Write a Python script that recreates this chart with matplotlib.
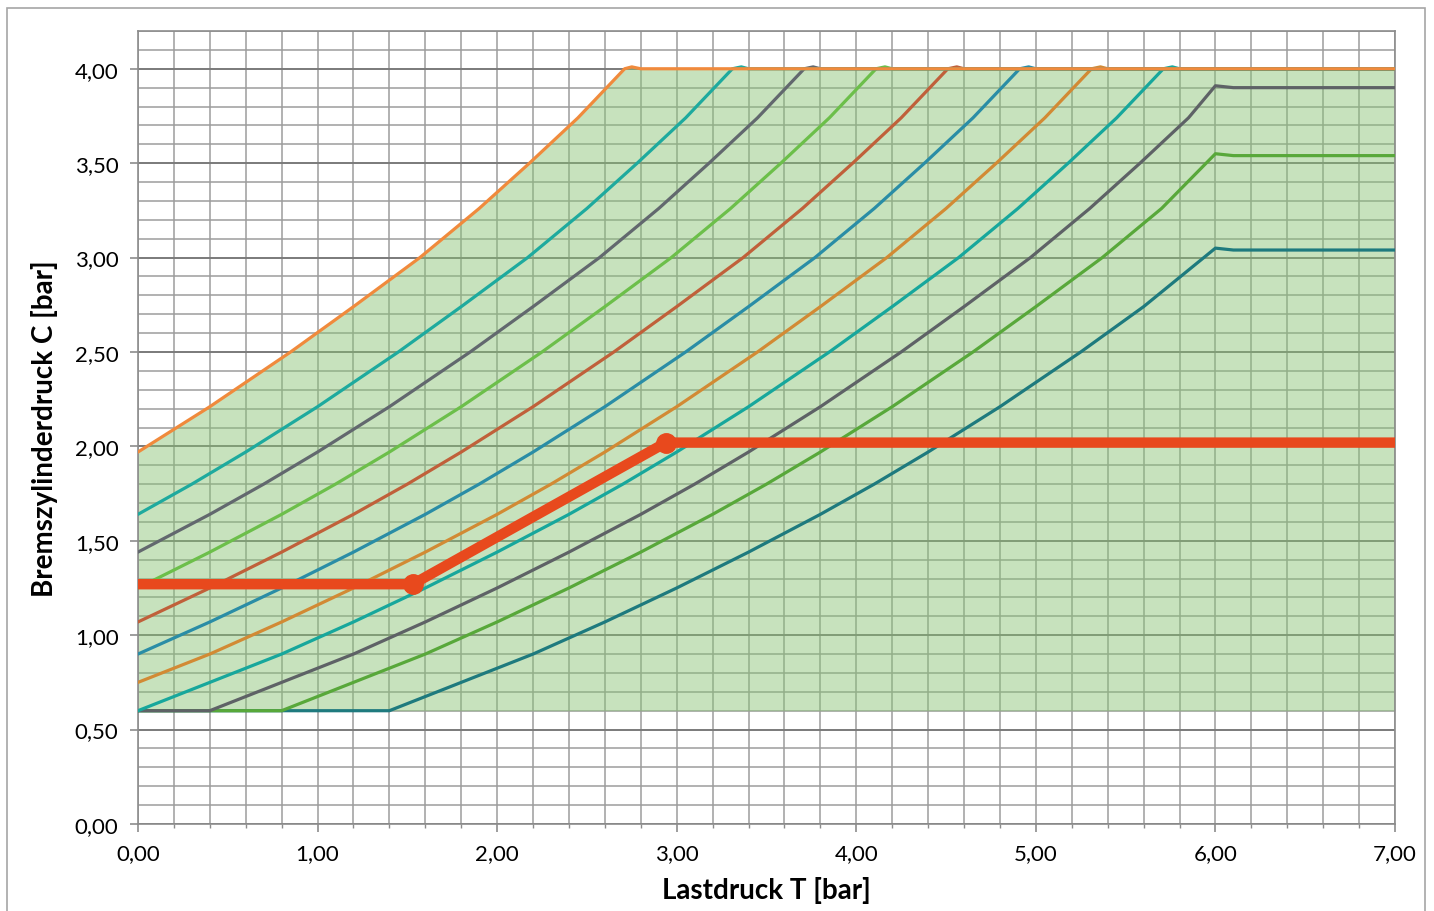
import numpy as np
import matplotlib
matplotlib.use("Agg")
import matplotlib.pyplot as plt
from matplotlib.ticker import MultipleLocator, FuncFormatter
from matplotlib.patches import Rectangle

plt.rcParams['font.family'] = ['Lato', 'DejaVu Sans']

# Kennlinien: Lastdruck T [bar] -> Bremszylinderdruck C [bar]
t_1 = [0, 0.4, 0.85, 1.2, 1.57, 1.9, 2.18, 2.45, 2.71, 2.75, 2.8, 7.0]
c_1 = [1.97, 2.21, 2.50, 2.74, 3.00, 3.26, 3.50, 3.74, 4.00, 4.01, 4.00, 4.00]

t_2 = [0, 0.3, 0.6, 1.0, 1.45, 1.8, 2.17, 2.5, 2.78, 3.05, 3.31, 3.36, 3.4, 7.0]
c_2 = [1.64, 1.80, 1.97, 2.21, 2.50, 2.74, 3.00, 3.26, 3.50, 3.74, 4.00, 4.01, 4.00, 4.00]

t_3 = [0, 0.4, 0.7, 1.0, 1.4, 1.85, 2.2, 2.57, 2.9, 3.18, 3.45, 3.71, 3.76, 3.8, 7.0]
c_3 = [1.44, 1.64, 1.80, 1.97, 2.21, 2.50, 2.74, 3.00, 3.26, 3.50, 3.74, 4.00, 4.01, 4.00, 4.00]

t_4 = [0, 0.4, 0.8, 1.1, 1.4, 1.8, 2.25, 2.6, 2.97, 3.3, 3.58, 3.85, 4.11, 4.16, 4.2, 7.0]
c_4 = [1.25, 1.44, 1.64, 1.80, 1.97, 2.21, 2.50, 2.74, 3.00, 3.26, 3.50, 3.74, 4.00, 4.01, 4.00, 4.00]

t_5 = [0, 0.4, 0.8, 1.2, 1.5, 1.8, 2.2, 2.65, 3.0, 3.37, 3.7, 3.98, 4.25, 4.51, 4.56, 4.6, 7.0]
c_5 = [1.07, 1.25, 1.44, 1.64, 1.80, 1.97, 2.21, 2.50, 2.74, 3.00, 3.26, 3.50, 3.74, 4.00, 4.01, 4.00, 4.00]

t_6 = [0, 0.4, 0.8, 1.2, 1.6, 1.9, 2.2, 2.6, 3.05, 3.4, 3.77, 4.1, 4.38, 4.65, 4.91, 4.96, 5.0, 7.0]
c_6 = [0.90, 1.07, 1.25, 1.44, 1.64, 1.80, 1.97, 2.21, 2.50, 2.74, 3.00, 3.26, 3.50, 3.74, 4.00, 4.01, 4.00, 4.00]

t_7 = [0, 0.4, 0.8, 1.2, 1.6, 2.0, 2.3, 2.6, 3.0, 3.45, 3.8, 4.17, 4.5, 4.78, 5.05, 5.31, 5.36, 5.4, 7.0]
c_7 = [0.75, 0.90, 1.07, 1.25, 1.44, 1.64, 1.80, 1.97, 2.21, 2.50, 2.74, 3.00, 3.26, 3.50, 3.74, 4.00, 4.01, 4.00, 4.00]

t_8 = [0, 0.4, 0.8, 1.2, 1.6, 2.0, 2.4, 2.7, 3.0, 3.4, 3.85, 4.2, 4.57, 4.9, 5.18, 5.45, 5.71, 5.76, 5.8, 7.0]
c_8 = [0.60, 0.75, 0.90, 1.07, 1.25, 1.44, 1.64, 1.80, 1.97, 2.21, 2.50, 2.74, 3.00, 3.26, 3.50, 3.74, 4.00, 4.01, 4.00, 4.00]

t_9 = [0, 0.4, 0.8, 1.2, 1.6, 2.0, 2.4, 2.8, 3.1, 3.4, 3.8, 4.25, 4.6, 4.97, 5.3, 5.58, 5.85, 6.0, 6.1, 7.0]
c_9 = [0.60, 0.60, 0.75, 0.90, 1.07, 1.25, 1.44, 1.64, 1.80, 1.97, 2.21, 2.50, 2.74, 3.00, 3.26, 3.50, 3.74, 3.91, 3.90, 3.90]

t_10 = [0, 0.8, 1.2, 1.6, 2.0, 2.4, 2.8, 3.2, 3.5, 3.8, 4.2, 4.65, 5.0, 5.37, 5.7, 6.0, 6.1, 7.0]
c_10 = [0.60, 0.60, 0.75, 0.90, 1.07, 1.25, 1.44, 1.64, 1.80, 1.97, 2.21, 2.50, 2.74, 3.00, 3.26, 3.55, 3.54, 3.54]

t_11 = [0, 1.4, 1.8, 2.2, 2.6, 3.0, 3.4, 3.8, 4.1, 4.4, 4.8, 5.25, 5.6, 6.0, 6.1, 7.0]
c_11 = [0.60, 0.60, 0.75, 0.90, 1.07, 1.25, 1.44, 1.64, 1.80, 1.97, 2.21, 2.50, 2.74, 3.05, 3.04, 3.04]

c_min = 0.60  # untere Grenze des Kennfelds

# Beispiel-Arbeitspunkt (rote Linie)
t_red = [0, 1.53, 2.94, 7.0]
c_red = [1.27, 1.27, 2.02, 2.02]
t_pts = [1.53, 2.94]
c_pts = [1.27, 2.02]

curves = [(t_1, c_1), (t_2, c_2), (t_3, c_3), (t_4, c_4), (t_5, c_5), (t_6, c_6),
          (t_7, c_7), (t_8, c_8), (t_9, c_9), (t_10, c_10), (t_11, c_11)]
colors = ['#F08A3C', '#1EAA9E', '#62686E', '#6CBF4A', '#C0603A', '#2A8DA6',
          '#D28A34', '#17A79C', '#5E6266', '#58A83A', '#1E7A7E']

fig = plt.figure(figsize=(14.34, 9.12), dpi=100)
ax = fig.add_axes([0.0962, 0.0954, 0.8766, 0.8695])

# gruenes Kennfeld
ax.fill_between(t_1, c_min, c_1, color='#88C274', alpha=0.47, lw=0, zorder=1)

# Kennlinien, die oberste zuletzt
for (t, c), col in list(zip(curves, colors))[::-1]:
    ax.plot(t, c, color=col, lw=2.3, zorder=3, solid_capstyle='round',
            solid_joinstyle='round')

ax.plot(t_red, c_red, color='#E8491D', lw=7.5, zorder=5, solid_capstyle='butt')
ax.plot(t_pts, c_pts, 'o', color='#E8491D', ms=14, zorder=6)

ax.set_xlim(0, 7)
ax.set_ylim(0, 4.2)
ax.xaxis.set_major_locator(MultipleLocator(1))
ax.xaxis.set_minor_locator(MultipleLocator(0.2))
ax.yaxis.set_major_locator(MultipleLocator(0.5))
ax.yaxis.set_minor_locator(MultipleLocator(0.1))
fmt = FuncFormatter(lambda v, p: f"{v:.2f}".replace('.', ','))
ax.xaxis.set_major_formatter(fmt)
ax.yaxis.set_major_formatter(fmt)

ax.set_axisbelow(True)
ax.grid(which='minor', color='#9c9c9c', lw=1.1)
ax.xaxis.grid(which='major', color='#9c9c9c', lw=1.1)
ax.yaxis.grid(which='major', color='#7a7a7a', lw=1.4)

for s in ax.spines.values():
    s.set_color('#8c8c8c')
    s.set_linewidth(1.2)

ax.tick_params(axis='x', which='major', direction='out', length=6, width=1.2,
               color='#8c8c8c', labelsize=16, pad=8)
ax.tick_params(axis='x', which='minor', direction='out', length=3, width=1.0,
               color='#8c8c8c')
ax.tick_params(axis='y', which='major', direction='out', length=6, width=1.2,
               color='#8c8c8c', labelsize=16, pad=8)
ax.tick_params(axis='y', which='minor', length=0)

ax.set_xlabel('Lastdruck T [bar]', fontsize=20, fontweight='bold', labelpad=9)
ax.set_ylabel('Bremszylinderdruck C [bar]', fontsize=20, fontweight='bold', labelpad=12)

# Rahmen um das Diagramm
fig.patches.append(Rectangle((0.005, -0.01), 0.989, 1.0, transform=fig.transFigure,
                             fill=False, edgecolor='#a6a6a6', lw=1.2))

fig.savefig('out.png', dpi=100)
